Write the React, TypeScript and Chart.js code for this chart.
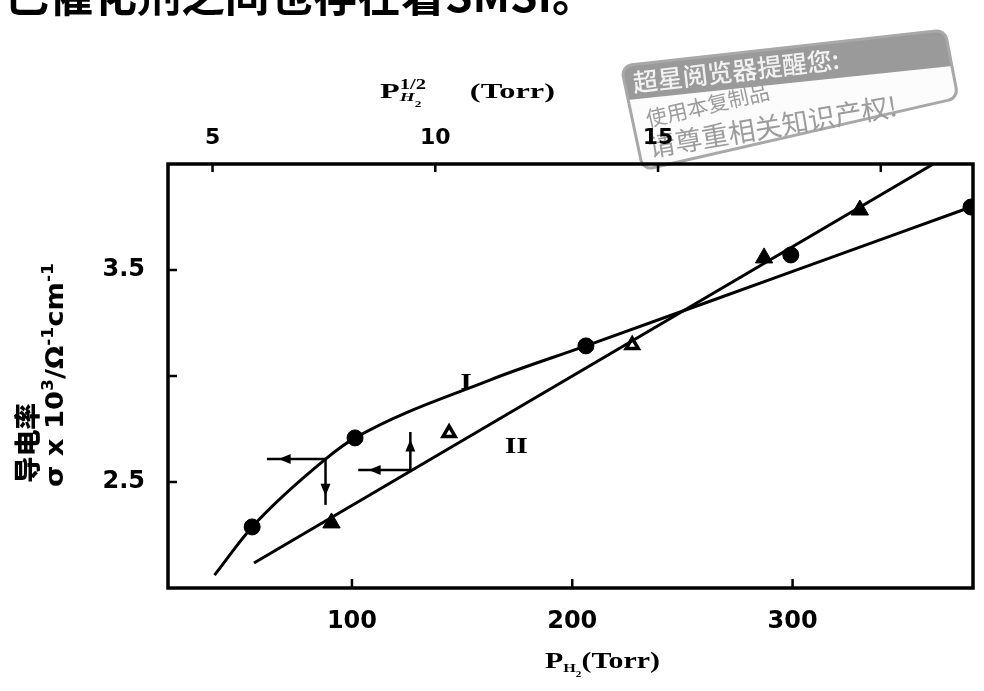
import React, { useEffect, useRef } from 'react';
import { Chart, registerables } from 'chart.js';

Chart.register(...registerables);

const WIDTH = 984;
const HEIGHT = 691;

// Curve I: conductivity against P(H2), read on the bottom axis
const curveIPressure = [37.6, 54.7, 88.0, 101.4, 162.6, 206.2, 290.0, 381.0];
const curveISigma = [2.061, 2.288, 2.608, 2.708, 2.981, 3.142, 3.456, 3.797];
const curveIDotPressure = [54.7, 101.4, 206.2, 381.0];
const curveIDotSigma = [2.288, 2.708, 3.142, 3.797];

// Curve II: conductivity against P(H2)^1/2, read on the top axis
const curveIIRoot = [5.93, 21.18];
const curveIISigma = [2.118, 4.0];
const curveIIMarkRoot = [7.67, 10.31, 14.42, 17.38, 17.98, 19.53];
const curveIIMarkSigma = [2.307, 2.731, 3.146, 3.557, 3.571, 3.783];
const curveIIMarkShape = ['triangle', 'triangle', 'triangle', 'triangle', 'circle', 'triangle'];
const curveIIMarkOpen = [false, true, true, false, false, false];

// Axis ranges and ticks
const pressureRange = [16.5, 381.9];
const rootRange = [4.0, 22.07];
const sigmaRange = [2.0, 4.0];
const pressureTicks = [100, 200, 300];
const rootTicks = [5, 10, 15, 20];
const rootTickLabels = ['5', '10', '15', ''];
const sigmaTicks = [2.5, 3.0, 3.5];
const sigmaTickLabels = ['2.5', '', '3.5'];

// Reading guides: a point on the curve, the end of its horizontal arrow and of its vertical arrow
const guideI = { x: 88.0, y: 2.608, toX: 61.4, toY: 2.392 }; // bottom axis
const guideII = { x: 9.44, y: 2.557, toX: 8.27, toY: 2.736 }; // top axis

// Curve names
const curveNames = [
  { text: 'I', axis: 'x', x: 151.8, y: 2.967 },
  { text: 'II', axis: 'x2', x: 11.82, y: 2.665 },
];

const headingText = '已催化剂之间也存在着SMSI。';
const stampLines = ['超星阅览器提醒您:', '使用本复制品', '请尊重相关知识产权!'];

const SERIF = '"Liberation Serif", "DejaVu Serif", serif';
const SANS = '"DejaVu Sans", sans-serif';
const CJK = '"Noto Sans CJK SC", sans-serif';

interface Seg {
  t: string;
  font: string;
  dy: number;
  keep?: boolean;
}

function segWidth(ctx: CanvasRenderingContext2D, segs: Seg[]) {
  let x = 0;
  let w = 0;
  for (const s of segs) {
    ctx.font = s.font;
    const m = ctx.measureText(s.t).width;
    w = Math.max(w, x + m);
    if (!s.keep) x += m;
  }
  return w;
}

// Draw a run of text pieces from (x0, y0), squeezed or stretched to a given width
function drawSegs(
  ctx: CanvasRenderingContext2D,
  segs: Seg[],
  x0: number,
  y0: number,
  width: number,
  rotate = false,
) {
  const w = segWidth(ctx, segs);
  ctx.save();
  ctx.translate(x0, y0);
  if (rotate) ctx.rotate(-Math.PI / 2);
  ctx.scale(width / w, 1);
  ctx.fillStyle = '#000';
  let x = 0;
  for (const s of segs) {
    ctx.font = s.font;
    ctx.fillText(s.t, x, s.dy);
    if (!s.keep) x += ctx.measureText(s.t).width;
  }
  ctx.restore();
}

function drawArrow(ctx: CanvasRenderingContext2D, x1: number, y1: number, x2: number, y2: number) {
  ctx.save();
  ctx.strokeStyle = '#000';
  ctx.fillStyle = '#000';
  ctx.lineWidth = 2.5;
  ctx.beginPath();
  ctx.moveTo(x1, y1);
  ctx.lineTo(x2, y2);
  ctx.stroke();
  const len = Math.hypot(x2 - x1, y2 - y1);
  const ux = (x2 - x1) / len;
  const uy = (y2 - y1) / len;
  const tipX = x1 + ux * len * 0.8;
  const tipY = y1 + uy * len * 0.8;
  const hl = 12;
  const hw = 5;
  ctx.beginPath();
  ctx.moveTo(tipX, tipY);
  ctx.lineTo(tipX - ux * hl - uy * hw, tipY - uy * hl + ux * hw);
  ctx.lineTo(tipX - ux * hl + uy * hw, tipY - uy * hl - ux * hw);
  ctx.closePath();
  ctx.fill();
  ctx.restore();
}

function roundedPath(ctx: CanvasRenderingContext2D, pts: number[][], r: number) {
  const n = pts.length;
  ctx.beginPath();
  const start = [(pts[n - 1][0] + pts[0][0]) / 2, (pts[n - 1][1] + pts[0][1]) / 2];
  ctx.moveTo(start[0], start[1]);
  for (let i = 0; i < n; i++) {
    const p = pts[i];
    const q = pts[(i + 1) % n];
    ctx.arcTo(p[0], p[1], q[0], q[1], r);
  }
  ctx.closePath();
}

function drawTilted(ctx: CanvasRenderingContext2D, text: string, x: number, y: number, deg: number, font: string, color: string) {
  ctx.save();
  ctx.translate(x, y);
  ctx.rotate((deg * Math.PI) / 180);
  ctx.font = font;
  ctx.fillStyle = color;
  ctx.textBaseline = 'alphabetic';
  ctx.fillText(text, 0, 0);
  ctx.restore();
}

// Reader's reminder stamp in the upper right corner
function drawStamp(ctx: CanvasRenderingContext2D) {
  ctx.save();
  const outline = [
    [621, 66],
    [945, 30],
    [958, 98],
    [643, 170],
  ];
  roundedPath(ctx, outline, 10);
  ctx.fillStyle = 'rgba(252,252,252,0.95)';
  ctx.fill();
  ctx.save();
  ctx.clip();
  ctx.beginPath();
  ctx.moveTo(600, 40);
  ctx.lineTo(980, 0);
  ctx.lineTo(980, 63);
  ctx.lineTo(600, 103);
  ctx.closePath();
  ctx.fillStyle = '#9a9a9a';
  ctx.fill();
  ctx.restore();
  roundedPath(ctx, outline, 10);
  ctx.lineWidth = 3;
  ctx.strokeStyle = '#a8a8a8';
  ctx.stroke();
  drawTilted(ctx, stampLines[0], 634, 92, -6.5, `500 25px ${CJK}`, '#f2f2f2');
  drawTilted(ctx, stampLines[1], 648, 127, -13, `400 21px ${CJK}`, '#9c9c9c');
  drawTilted(ctx, stampLines[2], 650, 157, -9.5, `400 27px ${CJK}`, '#9c9c9c');
  ctx.restore();
}

const decorPlugin = {
  id: 'decor',
  beforeDraw(chart: any) {
    const ctx: CanvasRenderingContext2D = chart.ctx;
    ctx.save();
    ctx.fillStyle = '#fff';
    ctx.fillRect(0, 0, chart.width, chart.height);
    // running text of the page above the figure
    ctx.fillStyle = '#000';
    ctx.font = `700 44px ${CJK}`;
    ctx.textBaseline = 'alphabetic';
    ctx.fillText(headingText, 5, 12);
    ctx.restore();
    drawStamp(ctx);
  },
  afterDatasetsDraw(chart: any) {
    const ctx: CanvasRenderingContext2D = chart.ctx;
    const { left, right, top, bottom } = chart.chartArea;
    const sx = chart.scales.x;
    const sx2 = chart.scales.x2;
    const sy = chart.scales.y;
    ctx.save();
    ctx.strokeStyle = '#000';
    ctx.lineWidth = 3.5;
    ctx.strokeRect(left, top, right - left, bottom - top);

    // inward tick marks
    ctx.lineWidth = 2.5;
    ctx.beginPath();
    for (const v of sigmaTicks) {
      const py = sy.getPixelForValue(v);
      ctx.moveTo(left, py);
      ctx.lineTo(left + 9, py);
    }
    for (const v of pressureTicks) {
      const px = sx.getPixelForValue(v);
      ctx.moveTo(px, bottom);
      ctx.lineTo(px, bottom - 9);
    }
    for (const v of rootTicks) {
      const px = sx2.getPixelForValue(v);
      ctx.moveTo(px, top);
      ctx.lineTo(px, top + 8);
    }
    ctx.stroke();

    // reading guides
    const gx = sx.getPixelForValue(guideI.x);
    const gy = sy.getPixelForValue(guideI.y);
    drawArrow(ctx, gx, gy, sx.getPixelForValue(guideI.toX), gy);
    drawArrow(ctx, gx, gy, gx, sy.getPixelForValue(guideI.toY));
    const hx = sx2.getPixelForValue(guideII.x);
    const hy = sy.getPixelForValue(guideII.y);
    drawArrow(ctx, hx, hy, sx2.getPixelForValue(guideII.toX), hy);
    drawArrow(ctx, hx, hy, hx, sy.getPixelForValue(guideII.toY));

    // curve names
    ctx.fillStyle = '#000';
    ctx.font = `bold 24px ${SERIF}`;
    ctx.textAlign = 'center';
    ctx.textBaseline = 'middle';
    for (const n of curveNames) {
      const sc = n.axis === 'x' ? sx : sx2;
      ctx.save();
      ctx.translate(sc.getPixelForValue(n.x), sy.getPixelForValue(n.y));
      ctx.scale(1.25, 1);
      ctx.fillText(n.text, 0, 0);
      ctx.restore();
    }
    ctx.textAlign = 'left';
    ctx.textBaseline = 'alphabetic';

    // axis titles
    drawSegs(
      ctx,
      [
        { t: 'P', font: `bold 22px ${SERIF}`, dy: 0 },
        { t: '1/2', font: `bold 14px ${SERIF}`, dy: -9, keep: true },
        { t: 'H', font: `bold italic 13px ${SERIF}`, dy: 3 },
        { t: '2', font: `bold 9px ${SERIF}`, dy: 9 },
        { t: '      (Torr)', font: `bold 22px ${SERIF}`, dy: 0 },
      ],
      380,
      98,
      175,
    );
    drawSegs(
      ctx,
      [
        { t: 'P', font: `bold 24px ${SERIF}`, dy: 0 },
        { t: 'H', font: `bold 13px ${SERIF}`, dy: 4 },
        { t: '2', font: `bold 9px ${SERIF}`, dy: 9 },
        { t: '(Torr)', font: `bold 24px ${SERIF}`, dy: 0 },
      ],
      545,
      668,
      115,
    );
    ctx.textBaseline = 'middle';
    drawSegs(ctx, [{ t: '导电率', font: `900 26px ${CJK}`, dy: 0 }], 27, 483, 80, true);
    drawSegs(
      ctx,
      [
        { t: 'σ x 10', font: `bold 24px ${SANS}`, dy: 0 },
        { t: '3', font: `bold 15px ${SANS}`, dy: -8 },
        { t: '/Ω', font: `bold 24px ${SANS}`, dy: 0 },
        { t: '-1', font: `bold 15px ${SANS}`, dy: -8 },
        { t: 'cm', font: `bold 24px ${SANS}`, dy: 0 },
        { t: '-1', font: `bold 15px ${SANS}`, dy: -8 },
      ],
      57,
      487,
      224,
      true,
    );
    ctx.restore();
  },
};

export default function App() {
  const ref = useRef<HTMLCanvasElement | null>(null);

  useEffect(() => {
    if (!ref.current) return;
    const pts = (xs: number[], ys: number[]) => xs.map((x, i) => ({ x, y: ys[i] }));
    const chart = new Chart(ref.current, {
      type: 'scatter',
      data: {
        datasets: [
          {
            data: pts(curveIPressure, curveISigma),
            xAxisID: 'x',
            yAxisID: 'y',
            showLine: true,
            borderColor: '#000',
            borderWidth: 3,
            pointRadius: 0,
            cubicInterpolationMode: 'monotone',
          },
          {
            data: pts(curveIDotPressure, curveIDotSigma),
            xAxisID: 'x',
            yAxisID: 'y',
            pointStyle: 'circle',
            pointRadius: 8,
            backgroundColor: '#000',
            borderColor: '#000',
            borderWidth: 1,
          },
          {
            data: pts(curveIIRoot, curveIISigma),
            xAxisID: 'x2',
            yAxisID: 'y',
            showLine: true,
            borderColor: '#000',
            borderWidth: 3,
            pointRadius: 0,
          },
          {
            data: pts(curveIIMarkRoot, curveIIMarkSigma),
            xAxisID: 'x2',
            yAxisID: 'y',
            pointStyle: curveIIMarkShape as any,
            pointRadius: curveIIMarkShape.map((s, i) => (s === 'circle' ? 8 : curveIIMarkOpen[i] ? 7 : 10)),
            backgroundColor: curveIIMarkOpen.map((o) => (o ? '#fff' : '#000')),
            borderColor: '#000',
            borderWidth: curveIIMarkOpen.map((o) => (o ? 3.5 : 1)),
          },
        ],
      },
      options: {
        animation: false,
        responsive: false,
        devicePixelRatio: 1,
        layout: { padding: { left: 0, right: 3, top: 0, bottom: 0 } },
        plugins: { legend: { display: false }, tooltip: { enabled: false } },
        scales: {
          x: {
            type: 'linear',
            position: 'bottom',
            min: pressureRange[0],
            max: pressureRange[1],
            afterBuildTicks: (s: any) => {
              s.ticks = pressureTicks.map((value) => ({ value }));
            },
            afterFit: (s: any) => {
              s.height = HEIGHT - 588;
            },
            grid: { display: false, drawTicks: false },
            border: { display: false },
            ticks: {
              color: '#000',
              font: { family: SANS, weight: 'bold', size: 24 },
              padding: 19,
              maxRotation: 0,
              autoSkip: false,
              callback: (v: any) => String(v),
            },
          },
          x2: {
            type: 'linear',
            position: 'top',
            min: rootRange[0],
            max: rootRange[1],
            afterBuildTicks: (s: any) => {
              s.ticks = rootTicks.map((value) => ({ value }));
            },
            afterFit: (s: any) => {
              s.height = 164;
            },
            grid: { display: false, drawTicks: false },
            border: { display: false },
            ticks: {
              color: '#000',
              font: { family: SANS, weight: 'bold', size: 22 },
              padding: 13,
              maxRotation: 0,
              autoSkip: false,
              callback: (v: any) => rootTickLabels[rootTicks.indexOf(v)] ?? '',
            },
          },
          y: {
            type: 'linear',
            position: 'left',
            min: sigmaRange[0],
            max: sigmaRange[1],
            afterBuildTicks: (s: any) => {
              s.ticks = sigmaTicks.map((value) => ({ value }));
            },
            afterFit: (s: any) => {
              s.width = 168;
            },
            grid: { display: false, drawTicks: false },
            border: { display: false },
            ticks: {
              color: '#000',
              font: { family: SANS, weight: 'bold', size: 24 },
              padding: 23,
              callback: (v: any) => sigmaTickLabels[sigmaTicks.indexOf(v)] ?? '',
            },
          },
        },
      },
      plugins: [decorPlugin],
    });
    return () => chart.destroy();
  }, []);

  return (
    <div style={{ position: 'fixed', left: 0, top: 0, width: WIDTH, height: HEIGHT, background: '#fff' }}>
      <canvas ref={ref} width={WIDTH} height={HEIGHT} style={{ display: 'block', width: WIDTH, height: HEIGHT }} />
    </div>
  );
}
